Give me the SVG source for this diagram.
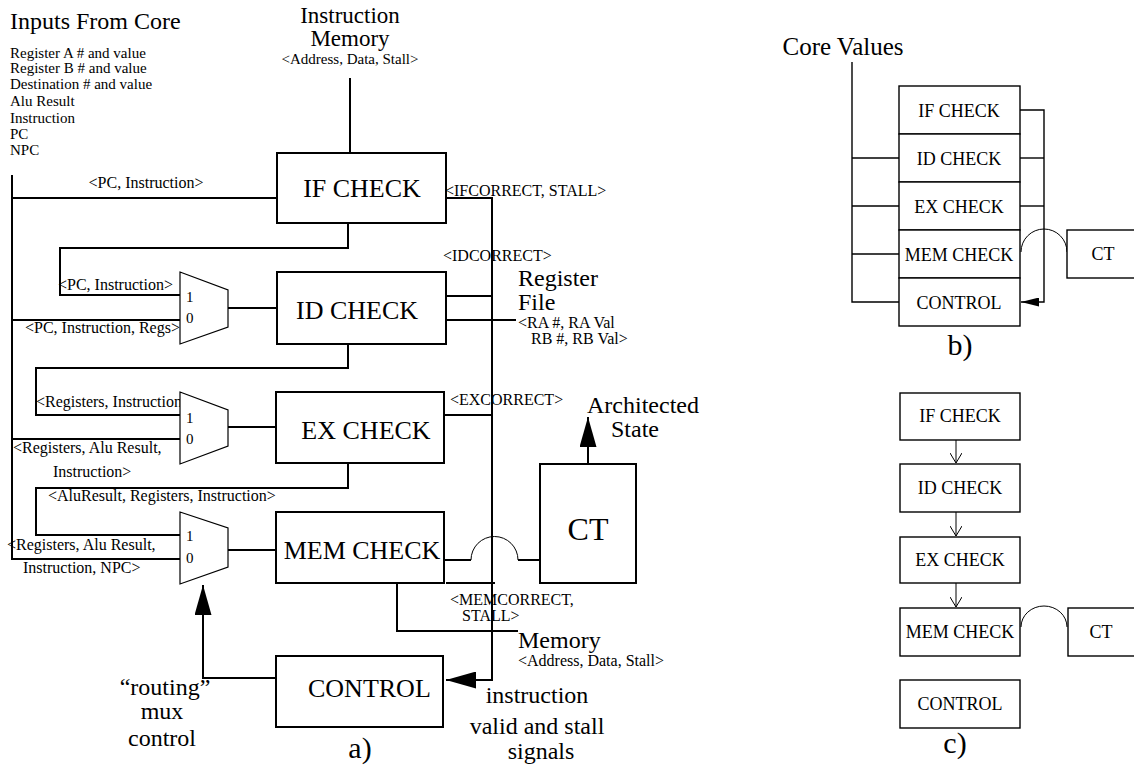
<svg xmlns="http://www.w3.org/2000/svg" width="1134" height="774" viewBox="0 0 1134 774">
  <style>
    text { font-family: "Liberation Serif", "Times New Roman", serif; fill: #000; }
    .box { fill: #fff; stroke: #000; stroke-width: 2; }
    .sbox { fill: #fff; stroke: #000; stroke-width: 1.4; }
    .mux { fill: #fff; stroke: #000; stroke-width: 1.2; }
    .wire { fill: none; stroke: #000; stroke-width: 2; }
    .swire { fill: none; stroke: #000; stroke-width: 1.4; }
    .hop { fill: none; stroke: #000; stroke-width: 1; }
    .big { font-size: 26px; }
    .sig { font-size: 24px; }
    .title { font-size: 24px; }
    .lbl { font-size: 16px; }
    .list { font-size: 15px; }
    .dig { font-size: 15px; }
    .small { font-size: 18px; }
    .cap { font-size: 30px; }
    .mid { text-anchor: middle; }
  </style>
  <defs>
    <marker id="solid" viewBox="0 0 30 17" refX="30" refY="8.5" markerWidth="30" markerHeight="17" markerUnits="userSpaceOnUse" orient="auto">
      <path d="M0,0 L30,8.5 L0,17 Z" fill="#000"/>
    </marker>
    <marker id="solid-sm" viewBox="0 0 18 9" refX="18" refY="4.5" markerWidth="18" markerHeight="9" markerUnits="userSpaceOnUse" orient="auto">
      <path d="M0,0 L18,4.5 L0,9 Z" fill="#000"/>
    </marker>
    <marker id="open" viewBox="0 0 11 12" refX="10" refY="6" markerWidth="11" markerHeight="12" markerUnits="userSpaceOnUse" orient="auto">
      <path d="M0,0 L10,6 L0,12" fill="none" stroke="#000" stroke-width="1"/>
    </marker>
  </defs>

  <!-- ===== a) checker pipeline ===== -->
  <g id="inputs-legend">
    <text class="title" x="10" y="29">Inputs From Core</text>
    <text class="list" x="10" y="58">Register A # and value</text>
    <text class="list" x="10" y="73">Register B # and value</text>
    <text class="list" x="10" y="89">Destination # and value</text>
    <text class="list" x="10" y="106">Alu Result</text>
    <text class="list" x="10" y="123">Instruction</text>
    <text class="list" x="10" y="139">PC</text>
    <text class="list" x="10" y="155">NPC</text>
  </g>

  <g id="imem-label">
    <text class="mid" x="350" y="23" font-size="23">Instruction</text>
    <text class="mid" x="350" y="46" font-size="23">Memory</text>
    <text class="mid" x="350" y="64" font-size="15">&lt;Address, Data, Stall&gt;</text>
  </g>

  <g id="a-connectors">
    <!-- core bus -->
    <path class="wire" d="M12,175 V559 H180"/>
    <path class="wire" d="M12,198 H277"/>
    <path class="wire" d="M12,320 H180"/>
    <path class="wire" d="M12,439 H180"/>
    <!-- instruction memory -->
    <path class="wire" d="M350,78 V153"/>
    <!-- stage to stage forwarding -->
    <path class="wire" d="M348,223 V248 H60 V295 H180"/>
    <path class="wire" d="M348,344 V368 H36 V415 H180"/>
    <path class="wire" d="M348,463 V488 H36 V535 H180"/>
    <!-- mux outputs -->
    <path class="wire" d="M228,308 H277"/>
    <path class="wire" d="M228,427 H276"/>
    <path class="wire" d="M228,550 H276"/>
    <!-- correctness signals to control -->
    <path class="wire" d="M446,198 H492 V680 H446" marker-end="url(#solid)"/>
    <path class="wire" d="M446,296 H492"/>
    <path class="wire" d="M446,320 H516"/>
    <path class="wire" d="M444,415 H492"/>
    <path class="wire" d="M446,583 H495"/>
    <!-- memory port -->
    <path class="wire" d="M397,583 V631 H518"/>
    <!-- MEM CHECK to CT, hopping the signal line -->
    <path class="wire" d="M444,560 H471"/>
    <path class="hop" d="M471,560 A23.5,23.5 0 0 1 518,560"/>
    <path class="wire" d="M518,560 H540"/>
    <!-- CT to architected state -->
    <path class="wire" d="M588,464 V417" marker-end="url(#solid)"/>
    <!-- routing mux control -->
    <path class="wire" d="M276,678 H203 V585" marker-end="url(#solid)"/>
  </g>

  <g id="a-labels">
    <text class="lbl mid" x="146" y="188">&lt;PC, Instruction&gt;</text>
    <text class="lbl" x="445" y="196">&lt;IFCORRECT, STALL&gt;</text>
    <text class="lbl" x="58" y="290">&lt;PC, Instruction&gt;</text>
    <text class="lbl" x="25" y="333">&lt;PC, Instruction, Regs&gt;</text>
    <text class="lbl" x="443" y="261">&lt;IDCORRECT&gt;</text>
    <text class="title" x="518" y="286">Register</text>
    <text class="title" x="518" y="310">File</text>
    <text class="lbl" x="518" y="328">&lt;RA #, RA Val</text>
    <text class="lbl" x="531" y="344">RB #, RB Val&gt;</text>
    <text class="lbl" x="36" y="407">&lt;Registers, Instruction&gt;</text>
    <text class="lbl" x="13" y="453">&lt;Registers, Alu Result,</text>
    <text class="lbl" x="53" y="477">Instruction&gt;</text>
    <text class="lbl" x="450" y="405">&lt;EXCORRECT&gt;</text>
    <text class="lbl" x="48" y="501">&lt;AluResult, Registers, Instruction&gt;</text>
    <text class="lbl" x="7" y="550">&lt;Registers, Alu Result,</text>
    <text class="lbl" x="23" y="573">Instruction, NPC&gt;</text>
    <text class="lbl" x="450" y="605">&lt;MEMCORRECT,</text>
    <text class="lbl" x="462" y="621">STALL&gt;</text>
    <text class="title" x="518" y="648">Memory</text>
    <text class="lbl" x="518" y="666">&lt;Address, Data, Stall&gt;</text>
    <text class="title mid" x="643" y="413">Architected</text>
    <text class="title mid" x="635" y="437">State</text>
    <text class="title mid" x="165" y="695">“routing”</text>
    <text class="title mid" x="162" y="719">mux</text>
    <text class="title mid" x="162" y="746">control</text>
    <text class="sig mid" x="537" y="703">instruction</text>
    <text class="sig mid" x="537" y="734">valid and stall</text>
    <text class="sig mid" x="541" y="759">signals</text>
    <text class="cap mid" x="360" y="758">a)</text>
  </g>

  <g id="mux-id">
    <polygon class="mux" points="180,272 228,290 228,327 180,344"/>
    <text class="dig" x="186" y="302">1</text>
    <text class="dig" x="186" y="323">0</text>
  </g>
  <g id="mux-ex">
    <polygon class="mux" points="180,392 228,410 228,446 180,464"/>
    <text class="dig" x="186" y="423">1</text>
    <text class="dig" x="186" y="444">0</text>
  </g>
  <g id="mux-mem">
    <polygon class="mux" points="180,512 228,528 228,567 180,584"/>
    <text class="dig" x="186" y="541">1</text>
    <text class="dig" x="186" y="563">0</text>
  </g>

  <g id="if-check">
    <rect class="box" x="277" y="153" width="169" height="70"/>
    <text class="big mid" x="362" y="197">IF CHECK</text>
  </g>
  <g id="id-check">
    <rect class="box" x="277" y="272" width="169" height="72"/>
    <text class="big mid" x="357" y="319">ID CHECK</text>
  </g>
  <g id="ex-check">
    <rect class="box" x="276" y="392" width="168" height="71"/>
    <text class="big mid" x="366" y="439">EX CHECK</text>
  </g>
  <g id="mem-check">
    <rect class="box" x="276" y="512" width="168" height="71"/>
    <text class="big mid" x="362" y="559">MEM CHECK</text>
  </g>
  <g id="ct">
    <rect class="box" x="540" y="464" width="96" height="119"/>
    <text class="mid" x="588" y="540" font-size="32">CT</text>
  </g>
  <g id="control">
    <rect class="box" x="276" y="656" width="167" height="71"/>
    <text class="big" x="308" y="697">CONTROL</text>
  </g>

  <!-- ===== b) stacked checkers ===== -->
  <g id="b-connectors">
    <path class="swire" d="M852,62 V302 H899"/>
    <path class="swire" d="M852,158 H899"/>
    <path class="swire" d="M852,206 H899"/>
    <path class="swire" d="M852,254 H899"/>
    <path class="swire" d="M1020,110 H1044 V302 H1021" marker-end="url(#solid-sm)"/>
    <path class="swire" d="M1020,158 H1044"/>
    <path class="swire" d="M1020,206 H1044"/>
    <path class="hop" d="M1021,252 A23,23 0 0 1 1067,252"/>
  </g>
  <text class="mid" x="843" y="55" font-size="25">Core Values</text>
  <g id="b-if">
    <rect class="sbox" x="899" y="86" width="121" height="48"/>
    <text class="small mid" x="959" y="117">IF CHECK</text>
  </g>
  <g id="b-id">
    <rect class="sbox" x="899" y="134" width="121" height="48"/>
    <text class="small mid" x="959" y="165">ID CHECK</text>
  </g>
  <g id="b-ex">
    <rect class="sbox" x="899" y="182" width="121" height="48"/>
    <text class="small mid" x="959" y="213">EX CHECK</text>
  </g>
  <g id="b-mem">
    <rect class="sbox" x="899" y="230" width="121" height="48"/>
    <text class="small mid" x="959" y="261">MEM CHECK</text>
  </g>
  <g id="b-control">
    <rect class="sbox" x="899" y="278" width="121" height="48"/>
    <text class="small mid" x="959" y="309">CONTROL</text>
  </g>
  <g id="b-ct">
    <rect class="sbox" x="1067" y="230" width="80" height="48"/>
    <text class="small mid" x="1103" y="260">CT</text>
  </g>
  <text class="cap mid" x="960" y="355">b)</text>

  <!-- ===== c) chained checkers ===== -->
  <g id="c-connectors">
    <path class="hop" d="M956,440 V463" marker-end="url(#open)"/>
    <path class="hop" d="M956,512 V536" marker-end="url(#open)"/>
    <path class="hop" d="M956,583 V607" marker-end="url(#open)"/>
    <path class="hop" d="M1021,627 A23,21 0 0 1 1067,627"/>
  </g>
  <g id="c-if">
    <rect class="sbox" x="900" y="393" width="120" height="47"/>
    <text class="small mid" x="960" y="422">IF CHECK</text>
  </g>
  <g id="c-id">
    <rect class="sbox" x="900" y="464" width="120" height="48"/>
    <text class="small mid" x="960" y="494">ID CHECK</text>
  </g>
  <g id="c-ex">
    <rect class="sbox" x="900" y="537" width="120" height="46"/>
    <text class="small mid" x="960" y="566">EX CHECK</text>
  </g>
  <g id="c-mem">
    <rect class="sbox" x="900" y="608" width="120" height="48"/>
    <text class="small mid" x="960" y="638">MEM CHECK</text>
  </g>
  <g id="c-ct">
    <rect class="sbox" x="1068" y="608" width="80" height="48"/>
    <text class="small mid" x="1101" y="638">CT</text>
  </g>
  <g id="c-control">
    <rect class="sbox" x="900" y="680" width="120" height="48"/>
    <text class="small mid" x="960" y="710">CONTROL</text>
  </g>
  <text class="cap mid" x="955" y="753">c)</text>
</svg>
